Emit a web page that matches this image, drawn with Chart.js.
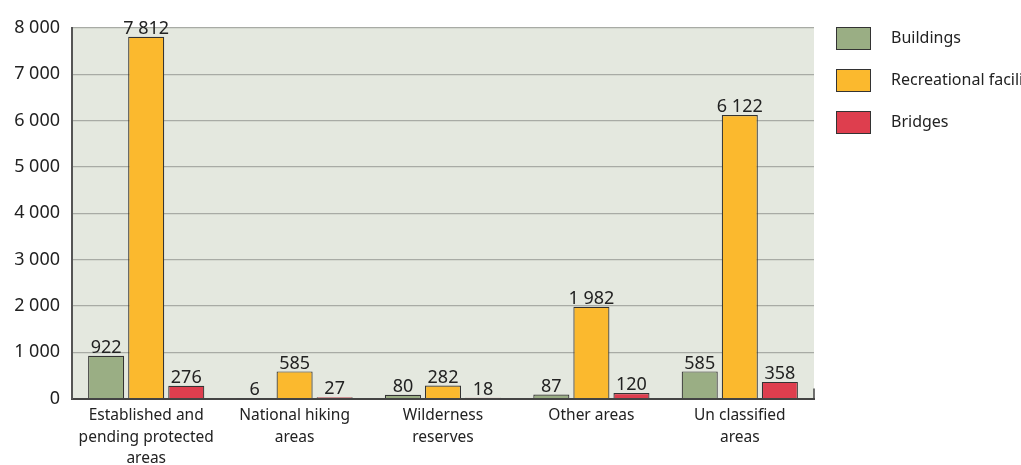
<!DOCTYPE html>
<html>
<head>
<meta charset="utf-8">
<script src="https://cdn.jsdelivr.net/npm/chart.js@4"></script>
<style>
  html, body { margin: 0; padding: 0; background: #fff; }
  #wrap { width: 1021px; height: 465px; position: relative; }
</style>
</head>
<body>
<div id="wrap"><canvas id="myChart" width="1021" height="465"></canvas></div>
<script>
const categories = [
    ['Established and', 'pending protected', 'areas'],
    ['National hiking', 'areas'],
    ['Wilderness', 'reserves'],
    'Other areas',
    ['Un classified', 'areas']
];
const seriesNames = ['Buildings', 'Recreational facilities', 'Bridges'];
const buildings = [922, 6, 80, 87, 585];
const recreational = [7812, 585, 282, 1982, 6122];
const bridges = [276, 27, 18, 120, 358];
const yTicks = [0, 1000, 2000, 3000, 4000, 5000, 6000, 7000, 8000];

const colors = ['#9aae84', '#fbb92e', '#de3e4e'];
const font = '"Noto Sans", "Open Sans", sans-serif';

function fmt(n) {
    return String(n).replace(/\B(?=(\d{3})+(?!\d))/g, ' ');
}

// plot background, value labels, legend and right end tick
const extras = {
    id: 'extras',
    beforeDatasetsDraw(chart) {
        const a = chart.chartArea;
        const ctx = chart.ctx;
        ctx.save();
        ctx.globalCompositeOperation = 'destination-over';
        ctx.fillStyle = '#e4e8df';
        ctx.fillRect(a.left, a.top, a.right - a.left, a.bottom - a.top);
        ctx.restore();
    },
    afterDatasetsDraw(chart) {
        const ctx = chart.ctx;
        ctx.save();
        ctx.font = '18px ' + font;
        ctx.fillStyle = '#222';
        ctx.textAlign = 'center';
        ctx.textBaseline = 'bottom';
        chart.data.datasets.forEach((ds, i) => {
            chart.getDatasetMeta(i).data.forEach((bar, j) => {
                ctx.fillText(fmt(ds.data[j]), bar.x, bar.y + 1);
            });
        });
        // small tick closing the x axis on the right
        const a = chart.chartArea;
        ctx.strokeStyle = '#444';
        ctx.lineWidth = 1.5;
        ctx.beginPath();
        ctx.moveTo(a.right, a.bottom);
        ctx.lineTo(a.right, a.bottom - 10);
        ctx.stroke();

        // legend
        ctx.font = '16px ' + font;
        ctx.textAlign = 'left';
        ctx.textBaseline = 'middle';
        chart.data.datasets.forEach((ds, i) => {
            const y = 27 + i * 42;
            ctx.fillStyle = ds.backgroundColor;
            ctx.fillRect(836, y, 34, 22);
            ctx.strokeStyle = '#333';
            ctx.lineWidth = 1;
            ctx.strokeRect(836.5, y + 0.5, 34, 22);
            ctx.fillStyle = '#222';
            ctx.fillText(ds.label, 891, y + 11);
        });
        ctx.restore();
    }
};

const datasets = [buildings, recreational, bridges].map((d, i) => ({
    label: seriesNames[i],
    data: d,
    backgroundColor: colors[i],
    borderColor: '#333',
    borderWidth: 1.2,
    categoryPercentage: 0.81,
    barPercentage: 0.9
}));

var ctx = document.getElementById('myChart').getContext('2d');
var myChart = new Chart(ctx, {
    type: 'bar',
    data: { labels: categories, datasets: datasets },
    plugins: [extras],
    options: {
        responsive: false,
        animation: false,
        layout: { padding: { top: 28, right: 207, left: 0, bottom: 0 } },
        plugins: {
            legend: { display: false },
            tooltip: { enabled: false }
        },
        scales: {
            x: {
                grid: { display: false, drawTicks: false },
                border: { display: true, color: '#444', width: 2 },
                ticks: {
                    color: '#222',
                    font: { family: font, size: 15.5, lineHeight: 1.36 },
                    padding: 7,
                    maxRotation: 0
                },
                afterFit(scale) { scale.height = 66.5; }
            },
            y: {
                min: 0,
                max: 8000,
                afterBuildTicks(scale) { scale.ticks = yTicks.map(v => ({ value: v })); },
                grid: { color: '#a8aba5', lineWidth: 1.2, drawTicks: false },
                border: { display: true, color: '#555', width: 2 },
                ticks: {
                    color: '#222',
                    font: { family: font, size: 18 },
                    padding: 12,
                    callback: v => fmt(v)
                },
                afterFit(scale) { scale.width = 72; }
            }
        }
    }
});
</script>
</body>
</html>
